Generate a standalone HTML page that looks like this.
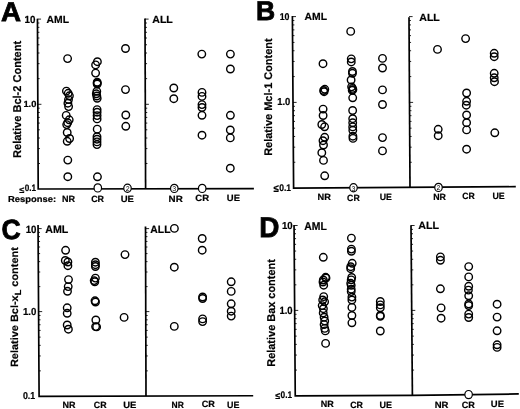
<!DOCTYPE html>
<html><head><meta charset="utf-8"><style>
html,body{margin:0;padding:0;background:#fff;}
svg{display:block;filter:blur(0.45px);}
text{font-family:"Liberation Sans", sans-serif;font-weight:bold;fill:#000;text-rendering:geometricPrecision;}
</style></head><body>
<svg width="520" height="409" viewBox="0 0 520 409">
<rect width="520" height="409" fill="#fff"/>
<path d="M37.45 18.8L38.2 189.0L253.9 188.6" fill="none" stroke="#000" stroke-width="1.7" stroke-linejoin="miter" stroke-linecap="butt"/>
<path d="M145.0 18.4L145.6 188.80" fill="none" stroke="#000" stroke-width="1.7"/>
<path d="M37.71 78.65h1.9 M37.65 63.65h1.9 M37.60 53.00h1.9 M37.56 44.75h1.9 M37.53 38.00h1.9 M37.51 32.30h1.9 M37.49 27.36h1.9 M37.47 23.00h1.9 M38.09 163.50h1.9 M38.02 148.59h1.9 M37.98 138.01h1.9 M37.94 129.80h1.9 M37.91 123.09h1.9 M37.88 117.42h1.9 M37.86 112.51h1.9 M37.84 108.18h1.9 M37.45 19.10h3.6 M37.83 104.30h3.6 M145.21 78.65h1.9 M145.16 63.65h1.9 M145.12 53.00h1.9 M145.09 44.75h1.9 M145.07 38.00h1.9 M145.05 32.30h1.9 M145.03 27.36h1.9 M145.02 23.00h1.9 M145.51 163.50h1.9 M145.46 148.59h1.9 M145.42 138.01h1.9 M145.39 129.80h1.9 M145.37 123.09h1.9 M145.35 117.42h1.9 M145.33 112.51h1.9 M145.32 108.18h1.9 M145.00 19.10h3.6 M145.30 104.30h3.6" fill="none" stroke="#000" stroke-width="0.85"/>
<circle cx="67.6" cy="58.6" r="3.75" fill="none" stroke="#000" stroke-width="1.4"/>
<circle cx="66.4" cy="91.1" r="3.75" fill="none" stroke="#000" stroke-width="1.4"/>
<circle cx="68.2" cy="93.3" r="3.75" fill="none" stroke="#000" stroke-width="1.4"/>
<circle cx="69.4" cy="95.8" r="3.75" fill="none" stroke="#000" stroke-width="1.4"/>
<circle cx="68.5" cy="99.6" r="3.75" fill="none" stroke="#000" stroke-width="1.4"/>
<circle cx="67.9" cy="103.2" r="3.75" fill="none" stroke="#000" stroke-width="1.4"/>
<circle cx="68.6" cy="106.6" r="3.75" fill="none" stroke="#000" stroke-width="1.4"/>
<circle cx="66.2" cy="115.4" r="3.75" fill="none" stroke="#000" stroke-width="1.4"/>
<circle cx="69.2" cy="119.8" r="3.75" fill="none" stroke="#000" stroke-width="1.4"/>
<circle cx="67.7" cy="122.7" r="3.75" fill="none" stroke="#000" stroke-width="1.4"/>
<circle cx="66.7" cy="124.6" r="3.75" fill="none" stroke="#000" stroke-width="1.4"/>
<circle cx="67.2" cy="132.5" r="3.75" fill="none" stroke="#000" stroke-width="1.4"/>
<circle cx="69.6" cy="138.5" r="3.75" fill="none" stroke="#000" stroke-width="1.4"/>
<circle cx="67.2" cy="141.3" r="3.75" fill="none" stroke="#000" stroke-width="1.4"/>
<circle cx="67.8" cy="160.1" r="3.75" fill="none" stroke="#000" stroke-width="1.4"/>
<circle cx="67.8" cy="176.7" r="3.75" fill="none" stroke="#000" stroke-width="1.4"/>
<circle cx="97.4" cy="61.7" r="3.75" fill="none" stroke="#000" stroke-width="1.4"/>
<circle cx="95.6" cy="64.9" r="3.75" fill="none" stroke="#000" stroke-width="1.4"/>
<circle cx="95.6" cy="73.1" r="3.75" fill="none" stroke="#000" stroke-width="1.4"/>
<circle cx="97.2" cy="82.2" r="3.75" fill="none" stroke="#000" stroke-width="1.4"/>
<circle cx="97.2" cy="83.1" r="3.75" fill="none" stroke="#000" stroke-width="1.4"/>
<circle cx="97.2" cy="84.0" r="3.75" fill="none" stroke="#000" stroke-width="1.4"/>
<circle cx="96.8" cy="91.3" r="3.75" fill="none" stroke="#000" stroke-width="1.4"/>
<circle cx="96.3" cy="93.8" r="3.75" fill="none" stroke="#000" stroke-width="1.4"/>
<circle cx="96.8" cy="96.0" r="3.75" fill="none" stroke="#000" stroke-width="1.4"/>
<circle cx="97.2" cy="98.3" r="3.75" fill="none" stroke="#000" stroke-width="1.4"/>
<circle cx="97.1" cy="109.6" r="3.75" fill="none" stroke="#000" stroke-width="1.4"/>
<circle cx="97.1" cy="112.2" r="3.75" fill="none" stroke="#000" stroke-width="1.4"/>
<circle cx="97.1" cy="115.6" r="3.75" fill="none" stroke="#000" stroke-width="1.4"/>
<circle cx="97.1" cy="118.9" r="3.75" fill="none" stroke="#000" stroke-width="1.4"/>
<circle cx="97.2" cy="129.15" r="3.75" fill="none" stroke="#000" stroke-width="1.4"/>
<circle cx="97.0" cy="136.7" r="3.75" fill="none" stroke="#000" stroke-width="1.4"/>
<circle cx="97.0" cy="139.2" r="3.75" fill="none" stroke="#000" stroke-width="1.4"/>
<circle cx="97.0" cy="141.9" r="3.75" fill="none" stroke="#000" stroke-width="1.4"/>
<circle cx="97.0" cy="144.6" r="3.75" fill="none" stroke="#000" stroke-width="1.4"/>
<circle cx="97.45" cy="176.8" r="3.75" fill="none" stroke="#000" stroke-width="1.4"/>
<circle cx="125.5" cy="48.5" r="3.75" fill="none" stroke="#000" stroke-width="1.4"/>
<circle cx="125.5" cy="89.6" r="3.75" fill="none" stroke="#000" stroke-width="1.4"/>
<circle cx="125.8" cy="115.0" r="3.75" fill="none" stroke="#000" stroke-width="1.4"/>
<circle cx="125.8" cy="126.3" r="3.75" fill="none" stroke="#000" stroke-width="1.4"/>
<circle cx="173.8" cy="88" r="3.75" fill="none" stroke="#000" stroke-width="1.4"/>
<circle cx="173.8" cy="98.7" r="3.75" fill="none" stroke="#000" stroke-width="1.4"/>
<circle cx="201.8" cy="54.1" r="3.75" fill="none" stroke="#000" stroke-width="1.4"/>
<circle cx="202" cy="92.4" r="3.75" fill="none" stroke="#000" stroke-width="1.4"/>
<circle cx="202" cy="96.4" r="3.75" fill="none" stroke="#000" stroke-width="1.4"/>
<circle cx="202" cy="104.6" r="3.75" fill="none" stroke="#000" stroke-width="1.4"/>
<circle cx="202" cy="107.5" r="3.75" fill="none" stroke="#000" stroke-width="1.4"/>
<circle cx="202" cy="115.3" r="3.75" fill="none" stroke="#000" stroke-width="1.4"/>
<circle cx="202" cy="135.2" r="3.75" fill="none" stroke="#000" stroke-width="1.4"/>
<circle cx="230.4" cy="54.1" r="3.75" fill="none" stroke="#000" stroke-width="1.4"/>
<circle cx="230.4" cy="69" r="3.75" fill="none" stroke="#000" stroke-width="1.4"/>
<circle cx="230.4" cy="115.3" r="3.75" fill="none" stroke="#000" stroke-width="1.4"/>
<circle cx="230.3" cy="130" r="3.75" fill="none" stroke="#000" stroke-width="1.4"/>
<circle cx="230.3" cy="137.9" r="3.75" fill="none" stroke="#000" stroke-width="1.4"/>
<circle cx="230.3" cy="168.2" r="3.75" fill="none" stroke="#000" stroke-width="1.4"/>
<ellipse cx="97.8" cy="187.9" rx="3.75" ry="4.1" fill="#fff" stroke="#000" stroke-width="1.2"/>
<ellipse cx="127.5" cy="188.3" rx="3.75" ry="4.1" fill="#fff" stroke="#000" stroke-width="1.2"/>
<text x="127.8" y="190.9" font-size="7" text-anchor="middle" fill="#111" style="font-weight:normal">2</text>
<ellipse cx="174.3" cy="188.4" rx="3.75" ry="4.1" fill="#fff" stroke="#000" stroke-width="1.2"/>
<text x="174.25" y="191.4" font-size="7" text-anchor="middle" fill="#111" style="font-weight:normal">3</text>
<ellipse cx="202.2" cy="188.4" rx="3.75" ry="4.1" fill="#fff" stroke="#000" stroke-width="1.2"/>
<path d="M292.4 16.1L293.6 188.05L515.8 186.7" fill="none" stroke="#000" stroke-width="1.7" stroke-linejoin="miter" stroke-linecap="butt"/>
<path d="M409.0 17.3L410.0 187.34" fill="none" stroke="#000" stroke-width="1.7"/>
<path d="M292.82 76.57h1.9 M292.72 61.46h1.9 M292.64 50.74h1.9 M292.58 42.43h1.9 M292.54 35.63h1.9 M292.50 29.89h1.9 M292.46 24.91h1.9 M292.43 20.53h1.9 M293.42 162.27h1.9 M293.31 147.18h1.9 M293.24 136.48h1.9 M293.18 128.18h1.9 M293.13 121.40h1.9 M293.09 115.67h1.9 M293.06 110.70h1.9 M293.03 106.32h1.9 M292.40 16.60h3.6 M293.00 102.40h3.6 M409.35 76.57h1.9 M409.26 61.46h1.9 M409.20 50.74h1.9 M409.15 42.43h1.9 M409.11 35.63h1.9 M409.07 29.89h1.9 M409.04 24.91h1.9 M409.02 20.53h1.9 M409.85 162.27h1.9 M409.76 147.18h1.9 M409.70 136.48h1.9 M409.65 128.18h1.9 M409.61 121.40h1.9 M409.58 115.67h1.9 M409.55 110.70h1.9 M409.52 106.32h1.9 M409.00 16.60h3.6 M409.50 102.40h3.6" fill="none" stroke="#000" stroke-width="0.85"/>
<circle cx="323" cy="63.7" r="3.75" fill="none" stroke="#000" stroke-width="1.4"/>
<circle cx="324.8" cy="89.3" r="3.75" fill="none" stroke="#000" stroke-width="1.4"/>
<circle cx="323.6" cy="90.5" r="3.75" fill="none" stroke="#000" stroke-width="1.4"/>
<circle cx="324.1" cy="91.7" r="3.75" fill="none" stroke="#000" stroke-width="1.4"/>
<circle cx="323.1" cy="109.1" r="3.75" fill="none" stroke="#000" stroke-width="1.4"/>
<circle cx="323.1" cy="115.5" r="3.75" fill="none" stroke="#000" stroke-width="1.4"/>
<circle cx="321.8" cy="124.5" r="3.75" fill="none" stroke="#000" stroke-width="1.4"/>
<circle cx="324.6" cy="126.8" r="3.75" fill="none" stroke="#000" stroke-width="1.4"/>
<circle cx="324.7" cy="137.3" r="3.75" fill="none" stroke="#000" stroke-width="1.4"/>
<circle cx="323" cy="140.7" r="3.75" fill="none" stroke="#000" stroke-width="1.4"/>
<circle cx="323.5" cy="145" r="3.75" fill="none" stroke="#000" stroke-width="1.4"/>
<circle cx="321.8" cy="152.7" r="3.75" fill="none" stroke="#000" stroke-width="1.4"/>
<circle cx="323.5" cy="160.4" r="3.75" fill="none" stroke="#000" stroke-width="1.4"/>
<circle cx="324.7" cy="175.8" r="3.75" fill="none" stroke="#000" stroke-width="1.4"/>
<circle cx="350.7" cy="31.4" r="3.75" fill="none" stroke="#000" stroke-width="1.4"/>
<circle cx="351.25" cy="58.85" r="3.75" fill="none" stroke="#000" stroke-width="1.4"/>
<circle cx="351.25" cy="61.95" r="3.75" fill="none" stroke="#000" stroke-width="1.4"/>
<circle cx="352.45" cy="71.5" r="3.75" fill="none" stroke="#000" stroke-width="1.4"/>
<circle cx="352.45" cy="73.3" r="3.75" fill="none" stroke="#000" stroke-width="1.4"/>
<circle cx="351.1" cy="80.0" r="3.75" fill="none" stroke="#000" stroke-width="1.4"/>
<circle cx="351.6" cy="86.85" r="3.75" fill="none" stroke="#000" stroke-width="1.4"/>
<circle cx="352.5" cy="88.4" r="3.75" fill="none" stroke="#000" stroke-width="1.4"/>
<circle cx="352.9" cy="89.6" r="3.75" fill="none" stroke="#000" stroke-width="1.4"/>
<circle cx="352.2" cy="90.3" r="3.75" fill="none" stroke="#000" stroke-width="1.4"/>
<circle cx="352.7" cy="97.8" r="3.75" fill="none" stroke="#000" stroke-width="1.4"/>
<circle cx="352.65" cy="110.5" r="3.75" fill="none" stroke="#000" stroke-width="1.4"/>
<circle cx="352.7" cy="118.7" r="3.75" fill="none" stroke="#000" stroke-width="1.4"/>
<circle cx="352.7" cy="122.8" r="3.75" fill="none" stroke="#000" stroke-width="1.4"/>
<circle cx="352.7" cy="126.9" r="3.75" fill="none" stroke="#000" stroke-width="1.4"/>
<circle cx="352.8" cy="130.3" r="3.75" fill="none" stroke="#000" stroke-width="1.4"/>
<circle cx="352.9" cy="136.2" r="3.75" fill="none" stroke="#000" stroke-width="1.4"/>
<circle cx="353" cy="138.4" r="3.75" fill="none" stroke="#000" stroke-width="1.4"/>
<circle cx="382.5" cy="58.4" r="3.75" fill="none" stroke="#000" stroke-width="1.4"/>
<circle cx="382.5" cy="68" r="3.75" fill="none" stroke="#000" stroke-width="1.4"/>
<circle cx="382.5" cy="89.9" r="3.75" fill="none" stroke="#000" stroke-width="1.4"/>
<circle cx="382.5" cy="104.5" r="3.75" fill="none" stroke="#000" stroke-width="1.4"/>
<circle cx="382.5" cy="137.6" r="3.75" fill="none" stroke="#000" stroke-width="1.4"/>
<circle cx="382.5" cy="150.9" r="3.75" fill="none" stroke="#000" stroke-width="1.4"/>
<circle cx="437.5" cy="49.4" r="3.75" fill="none" stroke="#000" stroke-width="1.4"/>
<circle cx="438.2" cy="129.3" r="3.75" fill="none" stroke="#000" stroke-width="1.4"/>
<circle cx="438.2" cy="135.7" r="3.75" fill="none" stroke="#000" stroke-width="1.4"/>
<circle cx="465.6" cy="38.6" r="3.75" fill="none" stroke="#000" stroke-width="1.4"/>
<circle cx="466.6" cy="93" r="3.75" fill="none" stroke="#000" stroke-width="1.4"/>
<circle cx="466.6" cy="101.3" r="3.75" fill="none" stroke="#000" stroke-width="1.4"/>
<circle cx="466.3" cy="105.2" r="3.75" fill="none" stroke="#000" stroke-width="1.4"/>
<circle cx="466.6" cy="115" r="3.75" fill="none" stroke="#000" stroke-width="1.4"/>
<circle cx="466.6" cy="122.7" r="3.75" fill="none" stroke="#000" stroke-width="1.4"/>
<circle cx="466.6" cy="129.9" r="3.75" fill="none" stroke="#000" stroke-width="1.4"/>
<circle cx="466.6" cy="149.2" r="3.75" fill="none" stroke="#000" stroke-width="1.4"/>
<circle cx="494.2" cy="53.3" r="3.75" fill="none" stroke="#000" stroke-width="1.4"/>
<circle cx="494.2" cy="56.7" r="3.75" fill="none" stroke="#000" stroke-width="1.4"/>
<circle cx="494.2" cy="73.3" r="3.75" fill="none" stroke="#000" stroke-width="1.4"/>
<circle cx="494.2" cy="77.8" r="3.75" fill="none" stroke="#000" stroke-width="1.4"/>
<circle cx="494.5" cy="81.7" r="3.75" fill="none" stroke="#000" stroke-width="1.4"/>
<circle cx="494.8" cy="132.8" r="3.75" fill="none" stroke="#000" stroke-width="1.4"/>
<ellipse cx="353.5" cy="187.7" rx="3.75" ry="4.1" fill="#fff" stroke="#000" stroke-width="1.2"/>
<text x="353.45" y="190.8" font-size="7" text-anchor="middle" fill="#111" style="font-weight:normal">3</text>
<ellipse cx="438.5" cy="187.4" rx="3.75" ry="4.1" fill="#fff" stroke="#000" stroke-width="1.2"/>
<text x="438.55" y="189.7" font-size="7" text-anchor="middle" fill="#111" style="font-weight:normal">2</text>
<path d="M38.05 225.1L39.1 396.4L253.2 395.75" fill="none" stroke="#000" stroke-width="1.7" stroke-linejoin="miter" stroke-linecap="butt"/>
<path d="M145.5 226.5L146.0 396.08" fill="none" stroke="#000" stroke-width="1.7"/>
<path d="M38.43 286.61h1.9 M38.34 272.00h1.9 M38.27 261.63h1.9 M38.22 253.59h1.9 M38.18 247.01h1.9 M38.15 241.46h1.9 M38.12 236.64h1.9 M38.09 232.40h1.9 M38.94 370.87h1.9 M38.85 355.94h1.9 M38.79 345.35h1.9 M38.74 337.13h1.9 M38.70 330.41h1.9 M38.66 324.74h1.9 M38.63 319.82h1.9 M38.60 315.48h1.9 M38.07 228.60h3.6 M38.58 311.60h3.6 M145.68 286.61h1.9 M145.63 272.00h1.9 M145.60 261.63h1.9 M145.58 253.59h1.9 M145.56 247.01h1.9 M145.54 241.46h1.9 M145.53 236.64h1.9 M145.52 232.40h1.9 M145.93 370.87h1.9 M145.88 355.94h1.9 M145.85 345.35h1.9 M145.83 337.13h1.9 M145.81 330.41h1.9 M145.79 324.74h1.9 M145.78 319.82h1.9 M145.76 315.48h1.9 M145.51 228.60h3.6 M145.75 311.60h3.6" fill="none" stroke="#000" stroke-width="0.85"/>
<circle cx="65.6" cy="250.3" r="3.75" fill="none" stroke="#000" stroke-width="1.4"/>
<circle cx="65.3" cy="260.5" r="3.75" fill="none" stroke="#000" stroke-width="1.4"/>
<circle cx="67.9" cy="262" r="3.75" fill="none" stroke="#000" stroke-width="1.4"/>
<circle cx="67.9" cy="265.7" r="3.75" fill="none" stroke="#000" stroke-width="1.4"/>
<circle cx="68.5" cy="279.6" r="3.75" fill="none" stroke="#000" stroke-width="1.4"/>
<circle cx="68.2" cy="286.6" r="3.75" fill="none" stroke="#000" stroke-width="1.4"/>
<circle cx="67.5" cy="291.3" r="3.75" fill="none" stroke="#000" stroke-width="1.4"/>
<circle cx="67.2" cy="307.8" r="3.75" fill="none" stroke="#000" stroke-width="1.4"/>
<circle cx="67.2" cy="313.3" r="3.75" fill="none" stroke="#000" stroke-width="1.4"/>
<circle cx="67.2" cy="325" r="3.75" fill="none" stroke="#000" stroke-width="1.4"/>
<circle cx="68.4" cy="329.2" r="3.75" fill="none" stroke="#000" stroke-width="1.4"/>
<circle cx="95.4" cy="262.2" r="3.75" fill="none" stroke="#000" stroke-width="1.4"/>
<circle cx="95.4" cy="264.7" r="3.75" fill="none" stroke="#000" stroke-width="1.4"/>
<circle cx="95.4" cy="266.5" r="3.75" fill="none" stroke="#000" stroke-width="1.4"/>
<circle cx="95.4" cy="278.1" r="3.75" fill="none" stroke="#000" stroke-width="1.4"/>
<circle cx="94.2" cy="280.6" r="3.75" fill="none" stroke="#000" stroke-width="1.4"/>
<circle cx="94.8" cy="281.8" r="3.75" fill="none" stroke="#000" stroke-width="1.4"/>
<circle cx="95" cy="300.8" r="3.75" fill="none" stroke="#000" stroke-width="1.4"/>
<circle cx="95.5" cy="302" r="3.75" fill="none" stroke="#000" stroke-width="1.4"/>
<circle cx="95.85" cy="320.0" r="3.75" fill="none" stroke="#000" stroke-width="1.4"/>
<circle cx="95.6" cy="326.6" r="3.75" fill="none" stroke="#000" stroke-width="1.4"/>
<circle cx="96.6" cy="326.9" r="3.75" fill="none" stroke="#000" stroke-width="1.4"/>
<circle cx="125" cy="254.6" r="3.75" fill="none" stroke="#000" stroke-width="1.4"/>
<circle cx="124.1" cy="317.4" r="3.75" fill="none" stroke="#000" stroke-width="1.4"/>
<circle cx="174.4" cy="228.4" r="3.75" fill="none" stroke="#000" stroke-width="1.4"/>
<circle cx="174.3" cy="267.2" r="3.75" fill="none" stroke="#000" stroke-width="1.4"/>
<circle cx="174.3" cy="326.4" r="3.75" fill="none" stroke="#000" stroke-width="1.4"/>
<circle cx="202.2" cy="238.5" r="3.75" fill="none" stroke="#000" stroke-width="1.4"/>
<circle cx="202.2" cy="250.2" r="3.75" fill="none" stroke="#000" stroke-width="1.4"/>
<circle cx="202.6" cy="297" r="3.75" fill="none" stroke="#000" stroke-width="1.4"/>
<circle cx="202.6" cy="298.5" r="3.75" fill="none" stroke="#000" stroke-width="1.4"/>
<circle cx="202.6" cy="318.9" r="3.75" fill="none" stroke="#000" stroke-width="1.4"/>
<circle cx="202.6" cy="321.6" r="3.75" fill="none" stroke="#000" stroke-width="1.4"/>
<circle cx="231.2" cy="281.8" r="3.75" fill="none" stroke="#000" stroke-width="1.4"/>
<circle cx="231.2" cy="291.4" r="3.75" fill="none" stroke="#000" stroke-width="1.4"/>
<circle cx="231.2" cy="303.8" r="3.75" fill="none" stroke="#000" stroke-width="1.4"/>
<circle cx="231.2" cy="311.2" r="3.75" fill="none" stroke="#000" stroke-width="1.4"/>
<circle cx="231.2" cy="316.1" r="3.75" fill="none" stroke="#000" stroke-width="1.4"/>
<path d="M294.05 225.1L295.25 395.8L412.4 395.35L518.8 393.95" fill="none" stroke="#000" stroke-width="1.7" stroke-linejoin="miter" stroke-linecap="butt"/>
<path d="M411.0 225.2L412.4 395.35" fill="none" stroke="#000" stroke-width="1.7"/>
<path d="M294.47 284.84h1.9 M294.36 269.89h1.9 M294.29 259.29h1.9 M294.23 251.06h1.9 M294.19 244.33h1.9 M294.15 238.65h1.9 M294.11 233.73h1.9 M294.08 229.38h1.9 M295.07 370.09h1.9 M294.96 355.05h1.9 M294.89 344.38h1.9 M294.83 336.11h1.9 M294.78 329.35h1.9 M294.74 323.63h1.9 M294.71 318.68h1.9 M294.68 314.31h1.9 M294.05 225.50h3.6 M294.65 310.40h3.6 M411.49 284.84h1.9 M411.37 269.89h1.9 M411.28 259.29h1.9 M411.21 251.06h1.9 M411.16 244.33h1.9 M411.11 238.65h1.9 M411.07 233.73h1.9 M411.03 229.38h1.9 M412.19 370.09h1.9 M412.07 355.05h1.9 M411.98 344.38h1.9 M411.91 336.11h1.9 M411.86 329.35h1.9 M411.81 323.63h1.9 M411.77 318.68h1.9 M411.73 314.31h1.9 M411.00 225.50h3.6 M411.70 310.40h3.6" fill="none" stroke="#000" stroke-width="0.85"/>
<circle cx="323.3" cy="257.3" r="3.75" fill="none" stroke="#000" stroke-width="1.4"/>
<circle cx="325.6" cy="277.3" r="3.75" fill="none" stroke="#000" stroke-width="1.4"/>
<circle cx="326.0" cy="278.0" r="3.75" fill="none" stroke="#000" stroke-width="1.4"/>
<circle cx="323.3" cy="280.0" r="3.75" fill="none" stroke="#000" stroke-width="1.4"/>
<circle cx="323.0" cy="282.0" r="3.75" fill="none" stroke="#000" stroke-width="1.4"/>
<circle cx="323.7" cy="285.2" r="3.75" fill="none" stroke="#000" stroke-width="1.4"/>
<circle cx="323.7" cy="296.6" r="3.75" fill="none" stroke="#000" stroke-width="1.4"/>
<circle cx="322.7" cy="300.0" r="3.75" fill="none" stroke="#000" stroke-width="1.4"/>
<circle cx="324.6" cy="301.8" r="3.75" fill="none" stroke="#000" stroke-width="1.4"/>
<circle cx="322.2" cy="305.6" r="3.75" fill="none" stroke="#000" stroke-width="1.4"/>
<circle cx="323.4" cy="308.7" r="3.75" fill="none" stroke="#000" stroke-width="1.4"/>
<circle cx="323.2" cy="312.9" r="3.75" fill="none" stroke="#000" stroke-width="1.4"/>
<circle cx="324.1" cy="317.2" r="3.75" fill="none" stroke="#000" stroke-width="1.4"/>
<circle cx="324.7" cy="321.0" r="3.75" fill="none" stroke="#000" stroke-width="1.4"/>
<circle cx="324.1" cy="324.6" r="3.75" fill="none" stroke="#000" stroke-width="1.4"/>
<circle cx="324.7" cy="328.4" r="3.75" fill="none" stroke="#000" stroke-width="1.4"/>
<circle cx="325.3" cy="330.9" r="3.75" fill="none" stroke="#000" stroke-width="1.4"/>
<circle cx="325.6" cy="343.4" r="3.75" fill="none" stroke="#000" stroke-width="1.4"/>
<circle cx="351.4" cy="238.1" r="3.75" fill="none" stroke="#000" stroke-width="1.4"/>
<circle cx="351.4" cy="249.1" r="3.75" fill="none" stroke="#000" stroke-width="1.4"/>
<circle cx="351.4" cy="251.3" r="3.75" fill="none" stroke="#000" stroke-width="1.4"/>
<circle cx="352.2" cy="263.3" r="3.75" fill="none" stroke="#000" stroke-width="1.4"/>
<circle cx="350.7" cy="266.7" r="3.75" fill="none" stroke="#000" stroke-width="1.4"/>
<circle cx="350.7" cy="268.7" r="3.75" fill="none" stroke="#000" stroke-width="1.4"/>
<circle cx="351.7" cy="277.5" r="3.75" fill="none" stroke="#000" stroke-width="1.4"/>
<circle cx="351.2" cy="279.9" r="3.75" fill="none" stroke="#000" stroke-width="1.4"/>
<circle cx="350.7" cy="283.3" r="3.75" fill="none" stroke="#000" stroke-width="1.4"/>
<circle cx="351.2" cy="285.3" r="3.75" fill="none" stroke="#000" stroke-width="1.4"/>
<circle cx="351.2" cy="289.2" r="3.75" fill="none" stroke="#000" stroke-width="1.4"/>
<circle cx="351.2" cy="291.6" r="3.75" fill="none" stroke="#000" stroke-width="1.4"/>
<circle cx="351.9" cy="297.1" r="3.75" fill="none" stroke="#000" stroke-width="1.4"/>
<circle cx="351.9" cy="300" r="3.75" fill="none" stroke="#000" stroke-width="1.4"/>
<circle cx="351.9" cy="307.4" r="3.75" fill="none" stroke="#000" stroke-width="1.4"/>
<circle cx="351.9" cy="315.5" r="3.75" fill="none" stroke="#000" stroke-width="1.4"/>
<circle cx="351.9" cy="322.8" r="3.75" fill="none" stroke="#000" stroke-width="1.4"/>
<circle cx="380.3" cy="301.5" r="3.75" fill="none" stroke="#000" stroke-width="1.4"/>
<circle cx="380.3" cy="304.9" r="3.75" fill="none" stroke="#000" stroke-width="1.4"/>
<circle cx="380.3" cy="307.8" r="3.75" fill="none" stroke="#000" stroke-width="1.4"/>
<circle cx="380.3" cy="315.4" r="3.75" fill="none" stroke="#000" stroke-width="1.4"/>
<circle cx="380.3" cy="316.3" r="3.75" fill="none" stroke="#000" stroke-width="1.4"/>
<circle cx="380.3" cy="331.0" r="3.75" fill="none" stroke="#000" stroke-width="1.4"/>
<circle cx="440.4" cy="256.9" r="3.75" fill="none" stroke="#000" stroke-width="1.4"/>
<circle cx="440.4" cy="260.3" r="3.75" fill="none" stroke="#000" stroke-width="1.4"/>
<circle cx="440.4" cy="288.8" r="3.75" fill="none" stroke="#000" stroke-width="1.4"/>
<circle cx="441.1" cy="307.9" r="3.75" fill="none" stroke="#000" stroke-width="1.4"/>
<circle cx="441.1" cy="318.2" r="3.75" fill="none" stroke="#000" stroke-width="1.4"/>
<circle cx="468.7" cy="266.6" r="3.75" fill="none" stroke="#000" stroke-width="1.4"/>
<circle cx="468.7" cy="276.9" r="3.75" fill="none" stroke="#000" stroke-width="1.4"/>
<circle cx="468.7" cy="286.3" r="3.75" fill="none" stroke="#000" stroke-width="1.4"/>
<circle cx="468.4" cy="290.1" r="3.75" fill="none" stroke="#000" stroke-width="1.4"/>
<circle cx="468.7" cy="295.8" r="3.75" fill="none" stroke="#000" stroke-width="1.4"/>
<circle cx="468.7" cy="303.9" r="3.75" fill="none" stroke="#000" stroke-width="1.4"/>
<circle cx="468.7" cy="305.5" r="3.75" fill="none" stroke="#000" stroke-width="1.4"/>
<circle cx="468.7" cy="314.1" r="3.75" fill="none" stroke="#000" stroke-width="1.4"/>
<circle cx="468.7" cy="317.5" r="3.75" fill="none" stroke="#000" stroke-width="1.4"/>
<circle cx="497.1" cy="304.2" r="3.75" fill="none" stroke="#000" stroke-width="1.4"/>
<circle cx="497.1" cy="317.1" r="3.75" fill="none" stroke="#000" stroke-width="1.4"/>
<circle cx="497.1" cy="330.8" r="3.75" fill="none" stroke="#000" stroke-width="1.4"/>
<circle cx="497.1" cy="344.8" r="3.75" fill="none" stroke="#000" stroke-width="1.4"/>
<circle cx="497.1" cy="347.4" r="3.75" fill="none" stroke="#000" stroke-width="1.4"/>
<ellipse cx="468.6" cy="394.6" rx="3.75" ry="4.1" fill="#fff" stroke="#000" stroke-width="1.2"/>
<text x="0.91" y="20.50" font-size="27.04" textLength="20.02" lengthAdjust="spacingAndGlyphs" stroke="#000" stroke-width="0.8" fill="#000">A</text>
<text x="255.92" y="19.90" font-size="27.04" textLength="19.18" lengthAdjust="spacingAndGlyphs" stroke="#000" stroke-width="0.8" fill="#000">B</text>
<text x="1.61" y="238.93" font-size="27.82" textLength="19.22" lengthAdjust="spacingAndGlyphs" stroke="#000" stroke-width="0.8" fill="#000">C</text>
<text x="259.33" y="236.50" font-size="28.49" textLength="20.14" lengthAdjust="spacingAndGlyphs" stroke="#000" stroke-width="0.8" fill="#000">D</text>
<text x="24.58" y="22.50" font-size="10.31" textLength="10.92" lengthAdjust="spacingAndGlyphs" stroke="#000" stroke-width="0.2" fill="#000">10</text>
<text x="23.41" y="107.01" font-size="8.90" textLength="12.97" lengthAdjust="spacingAndGlyphs" stroke="#000" stroke-width="0.2" fill="#000">1.0</text>
<text x="24.78" y="191.41" font-size="9.32" textLength="11.35" lengthAdjust="spacingAndGlyphs" stroke="#000" stroke-width="0.2" fill="#000">0.1</text>
<text x="19.23" y="192.55" font-size="8.84" textLength="5.04" lengthAdjust="spacingAndGlyphs" stroke="#000" stroke-width="0.2" fill="#000">≤</text>
<text x="279.64" y="19.60" font-size="9.89" textLength="9.82" lengthAdjust="spacingAndGlyphs" stroke="#000" stroke-width="0.2" fill="#000">10</text>
<text x="277.20" y="105.45" font-size="10.10" textLength="13.13" lengthAdjust="spacingAndGlyphs" stroke="#000" stroke-width="0.2" fill="#000">1.0</text>
<text x="279.26" y="190.51" font-size="9.60" textLength="11.88" lengthAdjust="spacingAndGlyphs" stroke="#000" stroke-width="0.2" fill="#000">0.1</text>
<text x="273.52" y="192.25" font-size="10.73" textLength="5.26" lengthAdjust="spacingAndGlyphs" stroke="#000" stroke-width="0.2" fill="#000">≤</text>
<text x="25.69" y="232.70" font-size="10.45" textLength="10.81" lengthAdjust="spacingAndGlyphs" stroke="#000" stroke-width="0.2" fill="#000">10</text>
<text x="22.99" y="314.70" font-size="10.17" textLength="13.40" lengthAdjust="spacingAndGlyphs" stroke="#000" stroke-width="0.2" fill="#000">1.0</text>
<text x="22.95" y="399.40" font-size="10.03" textLength="12.30" lengthAdjust="spacingAndGlyphs" stroke="#000" stroke-width="0.2" fill="#000">0.1</text>
<text x="281.89" y="229.40" font-size="10.17" textLength="10.70" lengthAdjust="spacingAndGlyphs" stroke="#000" stroke-width="0.2" fill="#000">10</text>
<text x="279.40" y="313.70" font-size="10.45" textLength="13.19" lengthAdjust="spacingAndGlyphs" stroke="#000" stroke-width="0.2" fill="#000">1.0</text>
<text x="280.57" y="397.91" font-size="9.60" textLength="11.56" lengthAdjust="spacingAndGlyphs" stroke="#000" stroke-width="0.2" fill="#000">0.1</text>
<text x="275.14" y="399.25" font-size="9.31" textLength="4.93" lengthAdjust="spacingAndGlyphs" stroke="#000" stroke-width="0.2" fill="#000">≤</text>
<text x="46.54" y="23.40" font-size="10.32" textLength="22.48" lengthAdjust="spacingAndGlyphs" stroke="#000" stroke-width="0.2" fill="#000">AML</text>
<text x="152.24" y="22.60" font-size="10.32" textLength="20.59" lengthAdjust="spacingAndGlyphs" stroke="#000" stroke-width="0.2" fill="#000">ALL</text>
<text x="304.64" y="20.30" font-size="10.32" textLength="22.48" lengthAdjust="spacingAndGlyphs" stroke="#000" stroke-width="0.2" fill="#000">AML</text>
<text x="419.24" y="21.00" font-size="10.32" textLength="20.59" lengthAdjust="spacingAndGlyphs" stroke="#000" stroke-width="0.2" fill="#000">ALL</text>
<text x="45.23" y="232.60" font-size="10.76" textLength="23.09" lengthAdjust="spacingAndGlyphs" stroke="#000" stroke-width="0.2" fill="#000">AML</text>
<text x="150.34" y="232.80" font-size="10.61" textLength="20.18" lengthAdjust="spacingAndGlyphs" stroke="#000" stroke-width="0.2" fill="#000">ALL</text>
<text x="304.24" y="230.00" font-size="11.34" textLength="22.58" lengthAdjust="spacingAndGlyphs" stroke="#000" stroke-width="0.2" fill="#000">AML</text>
<text x="418.28" y="228.70" font-size="10.47" textLength="20.85" lengthAdjust="spacingAndGlyphs" stroke="#000" stroke-width="0.2" fill="#000">ALL</text>
<text x="8.07" y="201.50" font-size="8.72" textLength="48.14" lengthAdjust="spacingAndGlyphs" stroke="#000" stroke-width="0.2" fill="#000">Response:</text>
<text x="62.04" y="202.05" font-size="9.01" textLength="13.09" lengthAdjust="spacingAndGlyphs" stroke="#000" stroke-width="0.2" fill="#000">NR</text>
<text x="91.13" y="202.05" font-size="9.01" textLength="12.90" lengthAdjust="spacingAndGlyphs" stroke="#000" stroke-width="0.2" fill="#000">CR</text>
<text x="120.68" y="202.05" font-size="9.01" textLength="13.25" lengthAdjust="spacingAndGlyphs" stroke="#000" stroke-width="0.2" fill="#000">UE</text>
<text x="168.59" y="202.05" font-size="9.01" textLength="14.16" lengthAdjust="spacingAndGlyphs" stroke="#000" stroke-width="0.2" fill="#000">NR</text>
<text x="195.36" y="201.05" font-size="9.01" textLength="13.79" lengthAdjust="spacingAndGlyphs" stroke="#000" stroke-width="0.2" fill="#000">CR</text>
<text x="226.88" y="201.05" font-size="9.01" textLength="13.14" lengthAdjust="spacingAndGlyphs" stroke="#000" stroke-width="0.2" fill="#000">UE</text>
<text x="317.63" y="200.05" font-size="9.01" textLength="13.31" lengthAdjust="spacingAndGlyphs" stroke="#000" stroke-width="0.2" fill="#000">NR</text>
<text x="347.09" y="201.05" font-size="9.01" textLength="12.64" lengthAdjust="spacingAndGlyphs" stroke="#000" stroke-width="0.2" fill="#000">CR</text>
<text x="379.72" y="200.05" font-size="9.01" textLength="12.17" lengthAdjust="spacingAndGlyphs" stroke="#000" stroke-width="0.2" fill="#000">UE</text>
<text x="433.16" y="200.05" font-size="9.01" textLength="12.77" lengthAdjust="spacingAndGlyphs" stroke="#000" stroke-width="0.2" fill="#000">NR</text>
<text x="462.19" y="199.05" font-size="9.01" textLength="12.53" lengthAdjust="spacingAndGlyphs" stroke="#000" stroke-width="0.2" fill="#000">CR</text>
<text x="492.42" y="199.05" font-size="9.01" textLength="12.28" lengthAdjust="spacingAndGlyphs" stroke="#000" stroke-width="0.2" fill="#000">UE</text>
<text x="62.45" y="408.05" font-size="9.01" textLength="12.99" lengthAdjust="spacingAndGlyphs" stroke="#000" stroke-width="0.2" fill="#000">NR</text>
<text x="93.79" y="408.05" font-size="9.01" textLength="12.74" lengthAdjust="spacingAndGlyphs" stroke="#000" stroke-width="0.2" fill="#000">CR</text>
<text x="123.18" y="408.05" font-size="9.01" textLength="13.14" lengthAdjust="spacingAndGlyphs" stroke="#000" stroke-width="0.2" fill="#000">UE</text>
<text x="171.58" y="408.05" font-size="9.01" textLength="12.24" lengthAdjust="spacingAndGlyphs" stroke="#000" stroke-width="0.2" fill="#000">NR</text>
<text x="201.78" y="407.05" font-size="9.01" textLength="13.16" lengthAdjust="spacingAndGlyphs" stroke="#000" stroke-width="0.2" fill="#000">CR</text>
<text x="227.01" y="408.05" font-size="9.01" textLength="12.38" lengthAdjust="spacingAndGlyphs" stroke="#000" stroke-width="0.2" fill="#000">UE</text>
<text x="320.75" y="407.05" font-size="9.01" textLength="12.99" lengthAdjust="spacingAndGlyphs" stroke="#000" stroke-width="0.2" fill="#000">NR</text>
<text x="350.19" y="408.05" font-size="9.01" textLength="12.74" lengthAdjust="spacingAndGlyphs" stroke="#000" stroke-width="0.2" fill="#000">CR</text>
<text x="379.61" y="408.05" font-size="9.01" textLength="12.49" lengthAdjust="spacingAndGlyphs" stroke="#000" stroke-width="0.2" fill="#000">UE</text>
<text x="434.71" y="408.05" font-size="9.01" textLength="13.73" lengthAdjust="spacingAndGlyphs" stroke="#000" stroke-width="0.2" fill="#000">NR</text>
<text x="461.78" y="408.05" font-size="9.01" textLength="13.16" lengthAdjust="spacingAndGlyphs" stroke="#000" stroke-width="0.2" fill="#000">CR</text>
<text x="490.88" y="407.05" font-size="9.01" textLength="13.14" lengthAdjust="spacingAndGlyphs" stroke="#000" stroke-width="0.2" fill="#000">UE</text>
<text transform="translate(21.20,157.94) rotate(-90)" x="0" y="0" font-size="11.34" textLength="117.07" lengthAdjust="spacingAndGlyphs" stroke="#000" stroke-width="0.2">Relative Bcl-2 Content</text>
<text transform="translate(272.10,155.83) rotate(-90)" x="0" y="0" font-size="11.05" textLength="117.47" lengthAdjust="spacingAndGlyphs" stroke="#000" stroke-width="0.2">Relative Mcl-1 Content</text>
<text transform="translate(275.10,366.73) rotate(-90)" x="0" y="0" font-size="11.34" textLength="107.57" lengthAdjust="spacingAndGlyphs" stroke="#000" stroke-width="0.2">Relative Bax content</text>
<g transform="translate(18.30,367.03) rotate(-90) scale(1.0444,1)"><text x="0" y="0" font-size="10.47" stroke="#000" stroke-width="0.2">Relative Bcl-x</text><text x="68.64" y="2.4" font-size="8.90" stroke="#000" stroke-width="0.2">L</text><text x="74.07" y="0" font-size="10.47" stroke="#000" stroke-width="0.2" xml:space="preserve"> content</text></g>
</svg>
</body></html>
